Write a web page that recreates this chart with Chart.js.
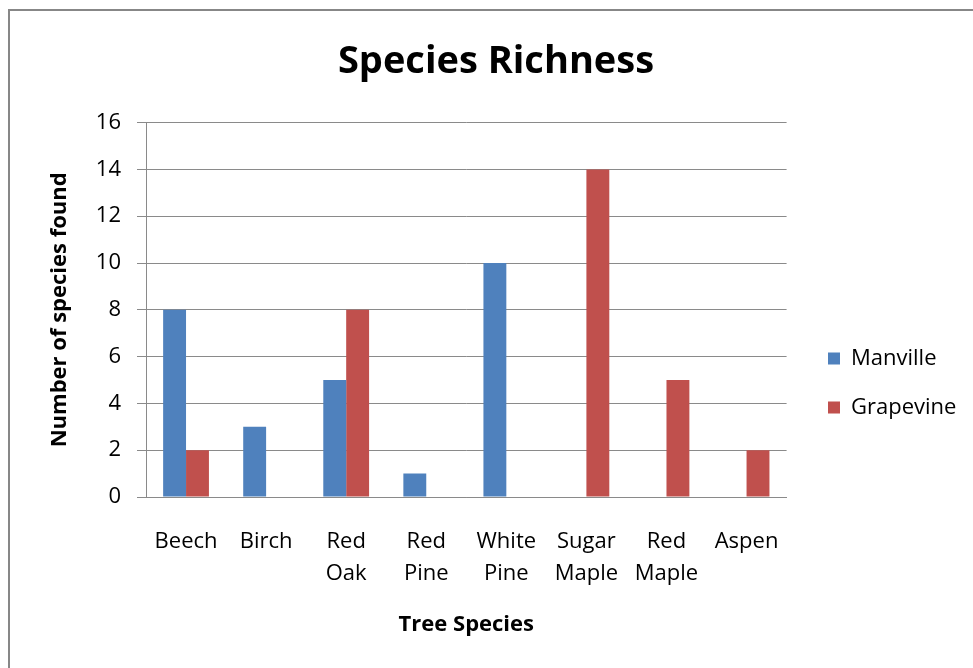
<!DOCTYPE html>
<html>
<head>
<meta charset="utf-8">
<script src="https://cdn.jsdelivr.net/npm/chart.js@4.4.1/dist/chart.umd.min.js"></script>
<style>
  html, body { margin: 0; padding: 0; background: #fff; overflow: hidden; }
  #wrap { position: relative; width: 973px; height: 668px; }
  #frame { position: absolute; left: 8px; top: 9px; width: 2000px; height: 2000px; border: 2px solid #878787; box-sizing: border-box; }
  #c { position: absolute; left: 0; top: 0; }
</style>
</head>
<body>
<div id="wrap">
  <div id="frame"></div>
  <canvas id="c" width="973" height="668"></canvas>
</div>
<script>
const categories = [["Beech"], ["Birch"], ["Red", "Oak"], ["Red", "Pine"], ["White", "Pine"], ["Sugar", "Maple"], ["Red", "Maple"], ["Aspen"]];
const manville = [8, 3, 5, 1, 10, 0, 0, 0];
const grapevine = [2, 0, 8, 0, 0, 14, 5, 2];
const yTicks = [0, 2, 4, 6, 8, 10, 12, 14, 16];

const FONT = "'Open Sans', Lato, sans-serif";

const pinLayout = {
  id: 'pinLayout',
  afterLayout(chart) {
    const lg = chart.legend;
    if (lg) {
      const w = lg.right - lg.left;
      lg.left = 801; lg.right = 801 + w;
      lg.top += 49; lg.bottom += 49;
    }
  }
};

new Chart(document.getElementById('c'), {
  type: 'bar',
  data: {
    labels: categories,
    datasets: [
      { label: 'Manville', data: manville, backgroundColor: '#4F81BD', borderWidth: 0 },
      { label: 'Grapevine', data: grapevine, backgroundColor: '#C0504D', borderWidth: 0 }
    ]
  },
  options: {
    responsive: false,
    animation: false,
    layout: { padding: { left: 40, right: 21, top: 0, bottom: 0 } },
    datasets: { bar: { categoryPercentage: 0.572, barPercentage: 1.0 } },
    plugins: {
      title: {
        display: true,
        text: 'Species Richness',
        color: '#000',
        font: { family: FONT, size: 38, weight: 'bold', lineHeight: 1.2 },
        padding: { top: 39, bottom: 38 }
      },
      legend: {
        position: 'right',
        labels: {
          color: '#000',
          font: { family: FONT, size: 22 },
          boxWidth: 12, boxHeight: 12,
          padding: 27
        }
      },
      tooltip: { enabled: false }
    },
    scales: {
      x: {
        grid: { display: false },
        border: { display: true, color: '#8a8a8a', width: 1 },
        ticks: { color: '#000', font: { family: FONT, size: 22, lineHeight: 1.45 }, padding: 21, maxRotation: 0, autoSkip: false },
        title: { display: true, text: 'Tree Species', color: '#000', font: { family: FONT, size: 22, weight: 'bold' }, padding: { top: 20, bottom: 30 } },
        afterFit(s) { s.height = 171; }
      },
      y: {
        min: 0, max: 16,
        afterBuildTicks(s) { s.ticks = yTicks.map(v => ({ value: v })); },
        grid: { color: '#8a8a8a', lineWidth: 1, tickLength: 9, drawTicks: true },
        border: { display: true, color: '#8a8a8a', width: 1 },
        ticks: { color: '#000', font: { family: FONT, size: 22 }, padding: 16 },
        title: { display: true, text: 'Number of species found', color: '#000', font: { family: FONT, size: 22, weight: 'bold' }, padding: { top: 7, bottom: 8 } },
        afterFit(s) { s.width = 106; }
      }
    }
  },
  plugins: [pinLayout]
});
</script>
</body>
</html>
